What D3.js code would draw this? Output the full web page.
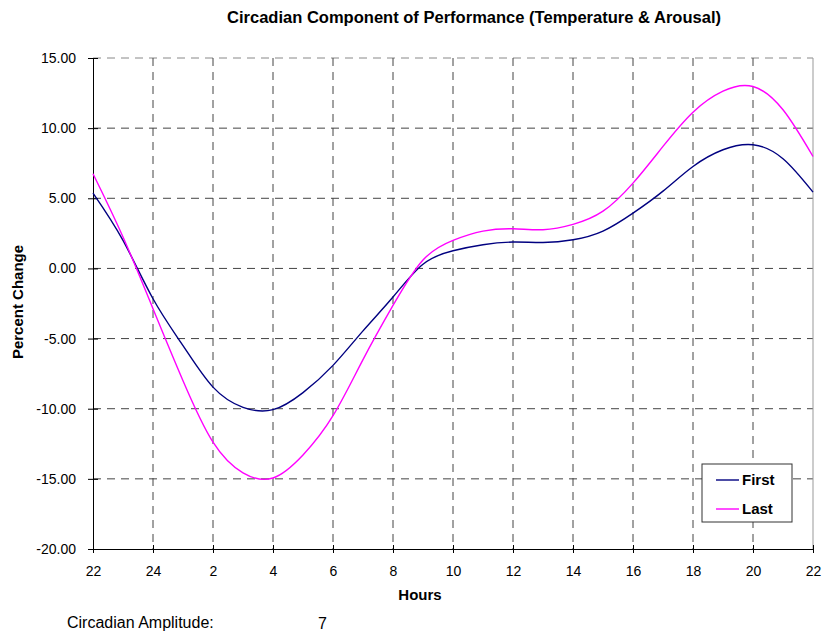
<!DOCTYPE html>
<html>
<head>
<meta charset="utf-8">
<script src="https://cdn.jsdelivr.net/npm/d3@7"></script>
<style>
  body { margin: 0; background: #fff; }
  text { font-family: "Liberation Sans", Arial, sans-serif; fill: #000; }
</style>
</head>
<body>
<div id="container"></div>
<script>
/* DATA */
const hourLabels = ["22","24","2","4","6","8","10","12","14","16","18","20","22"];
// hours since 22:00, one reading per hour
const hours = d3.range(0, 25);
const firstValues = [5.37, 2.0, -2.16, -5.5, -8.46, -9.9, -10.07, -8.85, -6.91, -4.45, -2.04, 0.3, 1.26,
  1.69, 1.88, 1.85, 2.04, 2.66, 3.94, 5.51, 7.27, 8.46, 8.82, 7.82, 5.44];
const lastValues = [6.75, 2.24, -2.87, -8.0, -12.38, -14.57, -14.94, -13.3, -10.5, -6.5, -2.64, 0.6, 2.0,
  2.66, 2.83, 2.76, 3.14, 4.08, 6.08, 8.7, 11.14, 12.64, 12.97, 11.31, 7.98];
const yTicks = [15, 10, 5, 0, -5, -10, -15, -20];
const seriesNames = ["First", "Last"];
const seriesColors = ["#000080", "#ff00ff"];
const amplitude = 7;

/* CONSTANTS */
const width = 827, height = 632;
const margin = { top: 58, left: 93, right: 14, bottom: 83 };

const svg = d3.select("#container").append("svg")
  .attr("width", width).attr("height", height);

const x = d3.scaleLinear().domain([0, 24]).range([margin.left, width - margin.right]);
const y = d3.scaleLinear().domain([-20, 15]).range([height - margin.bottom, margin.top]);

// gridlines
const grid = svg.append("g");
grid.selectAll("line.h")
  .data(yTicks.filter(d => d > -20))
  .join("line")
  .attr("x1", x(0)).attr("x2", x(24))
  .attr("y1", d => y(d)).attr("y2", d => y(d))
  .attr("stroke", d => d === 15 ? "#888" : "#444")
  .attr("stroke-dasharray", "8,6");
grid.selectAll("line.v")
  .data(d3.range(2, 24, 2))
  .join("line")
  .attr("x1", d => x(d)).attr("x2", d => x(d))
  .attr("y1", y(15)).attr("y2", y(-20))
  .attr("stroke", "#444")
  .attr("stroke-dasharray", "8,6");
// right border
svg.append("line")
  .attr("x1", x(24)).attr("x2", x(24))
  .attr("y1", y(15)).attr("y2", y(-20))
  .attr("stroke", "#999");

// axes
const yAxis = svg.append("g")
  .attr("transform", `translate(${x(0)},0)`)
  .call(d3.axisLeft(y).tickValues(yTicks).tickFormat(d3.format(".2f")).tickSize(5).tickPadding(12));
yAxis.select(".domain").attr("stroke", "#000");
yAxis.selectAll(".tick line").attr("x1", 5);
yAxis.selectAll(".tick text").style("font-size", "14px").text(d => d3.format(".2f")(d).replace("−", "-"));

const xAxis = svg.append("g")
  .attr("transform", `translate(0,${y(-20)})`)
  .call(d3.axisBottom(x).tickValues(d3.range(0, 25, 2)).tickFormat((d, i) => hourLabels[i]).tickSize(4).tickPadding(13));
xAxis.select(".domain").attr("stroke", "#000");
xAxis.selectAll(".tick line").attr("y1", -4);
xAxis.selectAll(".tick text").style("font-size", "14px");

// lines
const line = d3.line()
  .x((d, i) => x(hours[i]))
  .y(d => y(d))
  .curve(d3.curveNatural);

svg.selectAll("path.series")
  .data([firstValues, lastValues])
  .join("path")
  .attr("class", "series")
  .attr("d", line)
  .attr("fill", "none")
  .attr("stroke", (d, i) => seriesColors[i])
  .attr("stroke-width", 1.4);

// title and labels
svg.append("text")
  .attr("x", 474).attr("y", 23)
  .attr("text-anchor", "middle")
  .attr("textLength", 494).attr("lengthAdjust", "spacingAndGlyphs")
  .style("font-size", "16px").style("font-weight", "bold")
  .text("Circadian Component of Performance (Temperature & Arousal)");

svg.append("text")
  .attr("x", 420).attr("y", 600)
  .attr("text-anchor", "middle")
  .style("font-size", "15px").style("font-weight", "bold")
  .text("Hours");

svg.append("text")
  .attr("transform", "translate(23,302) rotate(-90)")
  .attr("text-anchor", "middle")
  .style("font-size", "15px").style("font-weight", "bold")
  .text("Percent Change");

svg.append("text")
  .attr("x", 67).attr("y", 628)
  .style("font-size", "16px")
  .text("Circadian Amplitude:");
svg.append("text")
  .attr("x", 318).attr("y", 629)
  .style("font-size", "16px")
  .text(amplitude);

// legend
const legend = svg.append("g").attr("transform", "translate(702,464)");
legend.append("rect")
  .attr("width", 90).attr("height", 58)
  .attr("fill", "#fff").attr("stroke", "#333");
const items = legend.selectAll("g.item")
  .data(seriesNames)
  .join("g")
  .attr("transform", (d, i) => `translate(0,${16 + i * 29})`);
items.append("line")
  .attr("x1", 14).attr("x2", 37)
  .attr("stroke", (d, i) => seriesColors[i])
  .attr("stroke-width", 1.4);
items.append("text")
  .attr("x", 40).attr("y", 5)
  .style("font-size", "15px").style("font-weight", "bold")
  .text(d => d);
</script>
</body>
</html>
